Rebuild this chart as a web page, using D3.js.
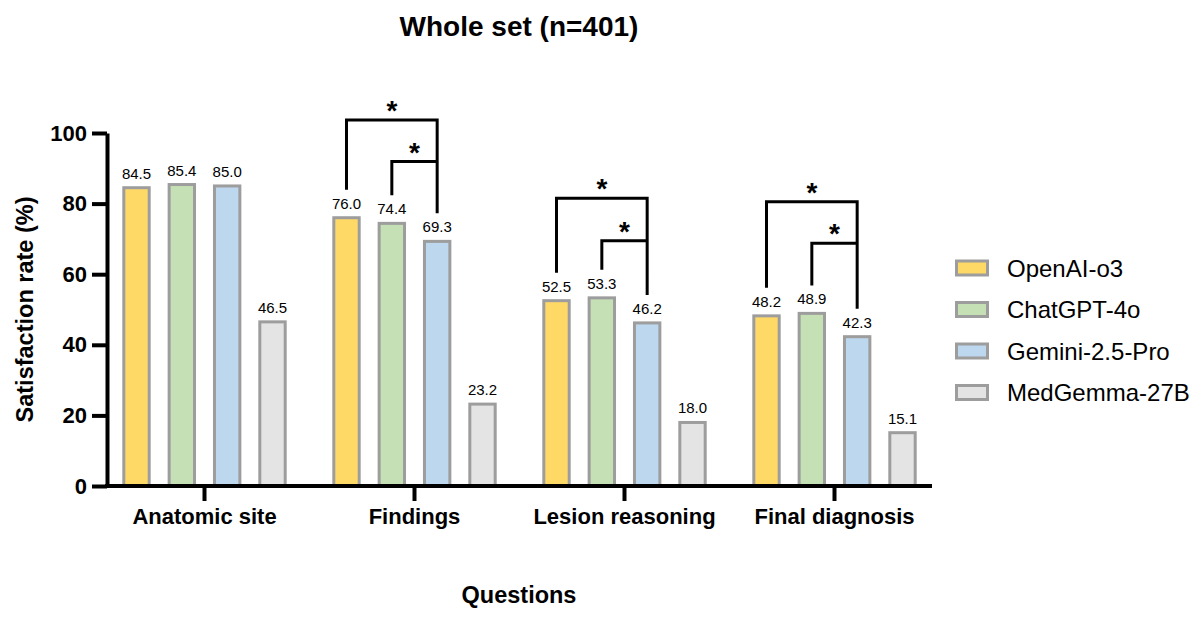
<!DOCTYPE html>
<html>
<head>
<meta charset="utf-8">
<script src="https://cdn.jsdelivr.net/npm/d3@7"></script>
<style>
  html, body { margin: 0; padding: 0; background: #fff; }
  svg { display: block; font-family: "Liberation Sans", Arial, Helvetica, sans-serif; }
</style>
</head>
<body>
<svg id="chart" width="1200" height="622"></svg>
<script>
// ---- data ----
const categories = ["Anatomic site", "Findings", "Lesion reasoning", "Final diagnosis"];
const series = ["OpenAI-o3", "ChatGPT-4o", "Gemini-2.5-Pro", "MedGemma-27B"];
const openaiO3   = [84.5, 76.0, 52.5, 48.2];
const chatgpt4o  = [85.4, 74.4, 53.3, 48.9];
const gemini25   = [85.0, 69.3, 46.2, 42.3];
const medgemma27 = [46.5, 23.2, 18.0, 15.1];
const seriesValues = [openaiO3, chatgpt4o, gemini25, medgemma27];
const seriesColors = ["#FFD966", "#C5E0B4", "#BDD7EE", "#E4E4E4"];
const yTicks = [0, 20, 40, 60, 80, 100];
// significance brackets (both vs Gemini-2.5-Pro), heights in % units
const sigCategories = ["Findings", "Lesion reasoning", "Final diagnosis"];
const sigOuterTop = [103.7, 81.5, 80.5];   // OpenAI-o3 vs Gemini-2.5-Pro
const sigInnerTop = [91.9, 69.5, 68.8];    // ChatGPT-4o vs Gemini-2.5-Pro
const sigLabel = "*";

// ---- layout ----
const svg = d3.select("#chart");
const font = '"Liberation Sans", Arial, Helvetica, sans-serif';

const y = d3.scaleLinear().domain([0, 100]).range([486, 133]);
const x0 = d3.scaleBand().domain(categories).range([99.5, 939.5]).paddingInner(0).paddingOuter(0);
const x1 = d3.scaleBand().domain(series).range([-90.67, 90.67]).paddingInner(0.44).paddingOuter(0.22);

const rows = [];
categories.forEach((c, ci) => {
  series.forEach((s, si) => {
    rows.push({ c, s, si, v: seriesValues[si][ci] });
  });
});

const cx = (c) => x0(c) + x0.bandwidth() / 2;
const barCenter = (c, s) => cx(c) + x1(s) + x1.bandwidth() / 2;

// bars
svg.append("g").selectAll("rect").data(rows).join("rect")
  .attr("x", d => cx(d.c) + x1(d.s))
  .attr("y", d => y(d.v))
  .attr("width", x1.bandwidth())
  .attr("height", d => y(0) - y(d.v))
  .attr("fill", d => seriesColors[d.si])
  .attr("stroke", "#9d9d9d")
  .attr("stroke-width", 3);

// value labels
svg.append("g").selectAll("text").data(rows).join("text")
  .attr("x", d => barCenter(d.c, d.s))
  .attr("y", d => y(d.v) - 9)
  .attr("text-anchor", "middle")
  .attr("font-size", "15px")
  .attr("fill", "#000")
  .text(d => d.v.toFixed(1));

// y axis
const yAxis = svg.append("g").attr("transform", "translate(107,0)")
  .call(d3.axisLeft(y).tickValues(yTicks).tickSize(15).tickSizeOuter(0).tickPadding(5));
yAxis.select(".domain").attr("stroke", "#000").attr("stroke-width", 4);
yAxis.selectAll(".tick line").attr("stroke", "#000").attr("stroke-width", 4);
yAxis.selectAll(".tick text").attr("font-size", "22px").attr("font-weight", "bold")
  .attr("font-family", font).attr("fill", "#000");

// x axis
const xAxis = svg.append("g").attr("transform", `translate(0,${y(0)})`)
  .call(d3.axisBottom(x0).tickSize(15).tickSizeOuter(0).tickPadding(7));
xAxis.select(".domain").remove();
xAxis.selectAll(".tick line").attr("stroke", "#000").attr("stroke-width", 4);
xAxis.selectAll(".tick text").attr("font-size", "22px").attr("font-weight", "bold")
  .attr("font-family", font).attr("fill", "#000");
svg.append("line")
  .attr("x1", 105).attr("x2", 932)
  .attr("y1", y(0)).attr("y2", y(0))
  .attr("stroke", "#000").attr("stroke-width", 4);

// significance brackets
const legEnd = (v) => y(v) - 28;
const bg = svg.append("g");
sigCategories.forEach((c, i) => {
  const ci = categories.indexOf(c);
  const xa = barCenter(c, series[0]);
  const xb = barCenter(c, series[1]);
  const xg = barCenter(c, series[2]);
  const vA = seriesValues[0][ci], vB = seriesValues[1][ci], vG = seriesValues[2][ci];
  const tOuter = y(sigOuterTop[i]);
  const tInner = y(sigInnerTop[i]);
  bg.append("path")
    .attr("d", `M${xa},${legEnd(vA)}V${tOuter}H${xg}V${legEnd(vG)}`)
    .attr("fill", "none").attr("stroke", "#000").attr("stroke-width", 3);
  bg.append("path")
    .attr("d", `M${xb},${legEnd(vB)}V${tInner}H${xg}`)
    .attr("fill", "none").attr("stroke", "#000").attr("stroke-width", 3);
  bg.append("text").attr("x", (xa + xg) / 2).attr("y", tOuter)
    .attr("text-anchor", "middle").attr("font-size", "28px").attr("font-weight", "bold")
    .text(sigLabel);
  bg.append("text").attr("x", (xb + xg) / 2).attr("y", tInner)
    .attr("text-anchor", "middle").attr("font-size", "28px").attr("font-weight", "bold")
    .text(sigLabel);
});

// title & axis titles
svg.append("text").attr("x", 519).attr("y", 36).attr("text-anchor", "middle")
  .attr("font-size", "28px").attr("font-weight", "bold").text("Whole set (n=401)");
svg.append("text").attr("x", 519).attr("y", 603).attr("text-anchor", "middle")
  .attr("font-size", "23.5px").attr("font-weight", "bold").text("Questions");
svg.append("text").attr("transform", `translate(33,${(y(0) + y(100)) / 2}) rotate(-90)`)
  .attr("text-anchor", "middle").attr("font-size", "23.5px").attr("font-weight", "bold")
  .text("Satisfaction rate (%)");

// legend
const lg = svg.append("g");
series.forEach((s, i) => {
  const cy = 268 + i * 41.5;
  lg.append("rect").attr("x", 956.5).attr("y", cy - 7).attr("width", 31).attr("height", 14)
    .attr("fill", seriesColors[i]).attr("stroke", "#9d9d9d").attr("stroke-width", 3);
  lg.append("text").attr("x", 1007).attr("y", cy + 8.5)
    .attr("font-size", "24px").attr("fill", "#000").text(s);
});
</script>
</body>
</html>
